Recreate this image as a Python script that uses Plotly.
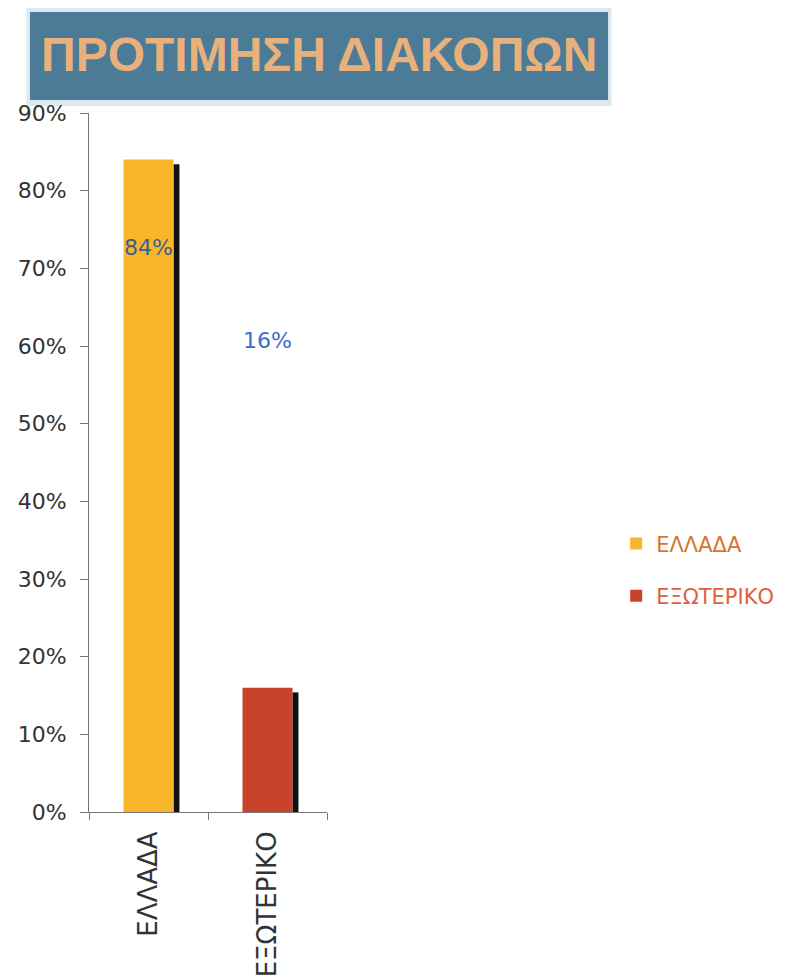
import plotly.graph_objects as go

categories = ["ΕΛΛΑΔΑ", "ΕΞΩΤΕΡΙΚΟ"]
values = [0.84, 0.16]
bar_colors = ["#F8B62A", "#C8432A"]
legend_text_colors = ["#D8742C", "#E0603E"]
label_texts = ["84%", "16%"]
label_y = [0.727, 0.607]
label_colors = ["#3E5E90", "#3B6BD0"]
title_text = "ΠΡΟΤΙΜΗΣΗ ΔΙΑΚΟΠΩΝ"

FONT = "DejaVu Sans, Liberation Sans, Arial"

fig = go.Figure()

# shadow bars
fig.add_trace(go.Bar(
    x=categories, y=[v - 0.006 for v in values],
    marker=dict(color="#111111", line=dict(width=0)),
    width=0.05, offset=0.21, showlegend=False, hoverinfo="skip",
))

for i, c in enumerate(categories):
    fig.add_trace(go.Bar(
        x=[c], y=[values[i]],
        name=f"<span style='color:{legend_text_colors[i]}'>{c}</span>",
        marker=dict(color=bar_colors[i], line=dict(width=0)),
        width=0.42, offset=-0.21,
        legendgroup=c,
    ))

for i, c in enumerate(categories):
    fig.add_annotation(
        x=c, y=label_y[i], xref="x", yref="y", text=label_texts[i],
        showarrow=False, font=dict(family=FONT, size=22, color=label_colors[i]),
    )

# title box
fig.add_shape(type="rect", xref="paper", yref="paper",
              x0=-0.262, x1=2.195, y0=1.010, y1=1.153,
              fillcolor="#DDE9F0", line=dict(width=0), layer="below")
fig.add_shape(type="rect", xref="paper", yref="paper",
              x0=-0.248, x1=2.181, y0=1.0186, y1=1.1445,
              fillcolor="#4B7B97", line=dict(width=0), layer="below")
fig.add_annotation(
    x=0.966, y=1.0837, xref="paper", yref="paper", text="<b>" + title_text + "</b>",
    showarrow=False, xanchor="center", yanchor="middle",
    font=dict(family="Liberation Sans, Arial", size=48, color="#E8B07A"),
)

fig.update_layout(
    width=789, height=972,
    margin=dict(l=81, r=470, t=105, b=168, autoexpand=False),
    paper_bgcolor="white", plot_bgcolor="white",
    barmode="overlay",
    showlegend=True,
    legend=dict(
        x=2.215, y=0.413, xanchor="left", yanchor="top",
        traceorder="grouped", tracegroupgap=22,
        font=dict(family=FONT, size=21, color="#D8742C"),
        bgcolor="rgba(0,0,0,0)",
    ),
    xaxis=dict(
        type="category", range=[-0.5, 1.5], automargin=False,
        showline=True, linecolor="#777777", linewidth=1,
        ticks="outside", tickson="boundaries", ticklen=7, tickcolor="#777777",
        ticklabelstandoff=8,
        tickangle=-90, tickfont=dict(family=FONT, size=26, color="#333333"),
        showgrid=False, zeroline=False,
    ),
    yaxis=dict(
        range=[0, 0.9], dtick=0.1, tickformat=".0%", automargin=False,
        showline=True, linecolor="#777777", linewidth=1,
        ticks="outside", ticklen=8, tickcolor="#777777",
        ticklabelstandoff=9,
        tickfont=dict(family=FONT, size=22, color="#333333"),
        showgrid=False, zeroline=False,
    ),
)

fig.write_html("out.html")
